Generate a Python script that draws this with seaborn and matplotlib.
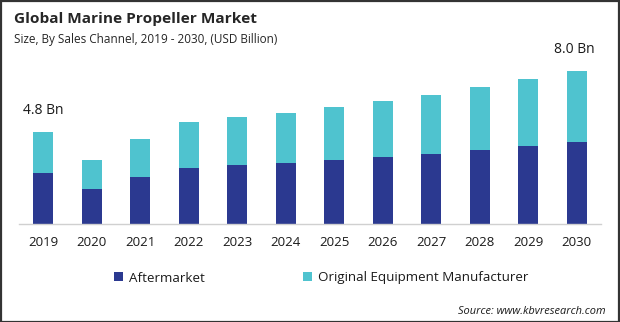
import matplotlib
matplotlib.use("Agg")
import matplotlib.pyplot as plt
from matplotlib.patches import Patch, Rectangle
import seaborn as sns
import pandas as pd

years = ["2019", "2020", "2021", "2022", "2023", "2024", "2025", "2026", "2027", "2028", "2029", "2030"]
aftermarket = [2.67, 1.83, 2.46, 2.93, 3.09, 3.19, 3.35, 3.51, 3.66, 3.87, 4.08, 4.29]
oem = [2.13, 1.52, 1.99, 2.41, 2.51, 2.62, 2.78, 2.93, 3.09, 3.30, 3.51, 3.71]
series_names = ["Aftermarket", "Original Equipment Manufacturer"]
value_labels = {"2019": "4.8 Bn", "2030": "8.0 Bn"}

NAVY = "#2B3990"
TEAL = "#4FC3CF"

df = pd.DataFrame({"year": years, "after": aftermarket, "oem": oem})
df["total"] = df["after"] + df["oem"]

sns.set_theme(style="white")
plt.rcParams["font.family"] = ["Open Sans", "DejaVu Sans"]

W, H = 620, 322
fig = plt.figure(figsize=(W / 100, H / 100), dpi=100)
ax = fig.add_axes([19 / W, (H - 224) / H, 582 / W, 174 / H])

sns.barplot(data=df, x="year", y="total", color=TEAL, width=0.41, ax=ax,
            saturation=1, linewidth=0, errorbar=None)
sns.barplot(data=df, x="year", y="after", color=NAVY, width=0.41, ax=ax,
            saturation=1, linewidth=0, errorbar=None)

ax.set_xlim(-0.5, len(years) - 0.5)
ax.set_ylim(0, 9.11)
ax.set_xlabel("")
ax.set_ylabel("")
ax.set_yticks([])
for s in ["top", "right", "left"]:
    ax.spines[s].set_visible(False)
ax.spines["bottom"].set_color("#d0d0d0")
ax.spines["bottom"].set_linewidth(1.0)
ax.tick_params(axis="x", length=0, pad=9, labelsize=9.5, labelcolor="#1a1a1a")

for i, y in enumerate(years):
    if y in value_labels:
        ax.annotate(value_labels[y], (i, df["total"][i]), xytext=(-2 if i == len(years) - 1 else 0, 10),
                    textcoords="offset points", ha="center", va="bottom",
                    fontsize=10, color="#1a1a1a")

fig.text(14 / W, 1 - 19 / H, "Global Marine Propeller Market", fontsize=11.1,
         fontweight="bold", color="#262626", ha="left", va="center")
fig.text(14 / W, 1 - 39 / H, "Size, By Sales Channel, 2019 - 2030, (USD Billion)",
         fontsize=8.5, color="#262626", ha="left", va="center")

handles = [Patch(facecolor=NAVY, edgecolor="none"), Patch(facecolor=TEAL, edgecolor="none")]
fig.legend(handles, series_names, loc="center", bbox_to_anchor=(321 / W, 1 - 278 / H),
           ncol=2, frameon=False, fontsize=9.6, handlelength=0.65, handleheight=0.65,
           handletextpad=0.45, columnspacing=7.4, labelcolor="#1a1a1a")

fig.text(606 / W, 1 - 311 / H, "Source: www.kbvresearch.com", fontsize=7.9,
         style="italic", color="#1a1a1a", ha="right", va="center")

fig.patches.append(Rectangle((0.5 / W, 0.5 / H), 1 - 1.5 / W, 1 - 1.5 / H,
                             transform=fig.transFigure, fill=False,
                             edgecolor="#333333", linewidth=1.6))

fig.savefig("out.png", dpi=100)
